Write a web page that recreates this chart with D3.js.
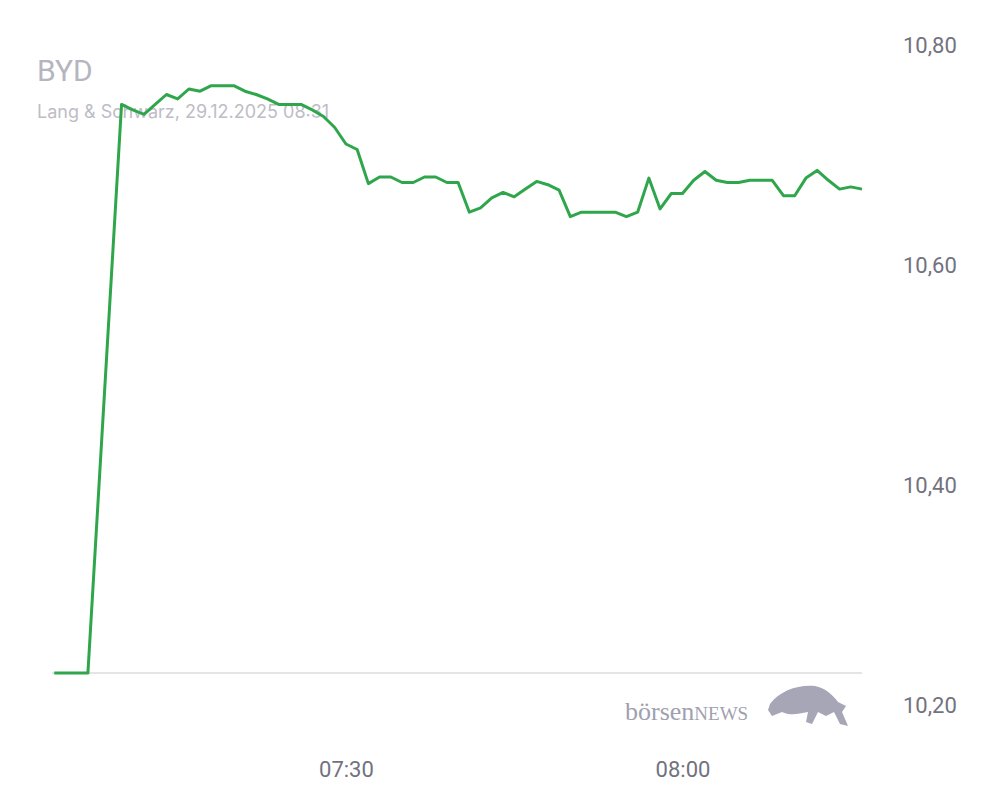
<!DOCTYPE html>
<html><head><meta charset="utf-8">
<script src="https://cdn.jsdelivr.net/npm/d3@7"></script>
<style>body{margin:0;background:#fff}svg{display:block}</style>
</head><body>
<script>
const times = ["07:04","07:07","07:10","07:11","07:12","07:13","07:14","07:15","07:16","07:17","07:18","07:19","07:20","07:21","07:22","07:23","07:24","07:25","07:26","07:27","07:28","07:29","07:30","07:31","07:32","07:33","07:34","07:35","07:36","07:37","07:38","07:39","07:40","07:41","07:42","07:43","07:44","07:45","07:46","07:47","07:48","07:49","07:50","07:51","07:52","07:53","07:54","07:55","07:56","07:57","07:58","07:59","08:00","08:01","08:02","08:03","08:04","08:05","08:06","08:07","08:08","08:09","08:10","08:11","08:12","08:13","08:14","08:15","08:16"];
const prices = [10.229,10.229,10.746,10.741,10.737,10.746,10.755,10.751,10.760,10.758,10.763,10.763,10.763,10.758,10.755,10.751,10.746,10.746,10.746,10.741,10.735,10.725,10.710,10.705,10.674,10.680,10.680,10.675,10.675,10.680,10.680,10.675,10.675,10.648,10.652,10.661,10.666,10.662,10.669,10.676,10.673,10.668,10.644,10.648,10.648,10.648,10.648,10.644,10.648,10.679,10.651,10.665,10.665,10.677,10.685,10.677,10.675,10.675,10.677,10.677,10.677,10.663,10.663,10.679,10.686,10.677,10.669,10.671,10.669];
const yTicks = [10.20,10.40,10.60,10.80];
const xTicks = ["07:30","08:00"];
const title = "BYD", subtitle = "Lang & Schwarz, 29.12.2025 08:31";

const W=1008,H=810;
const parse = d3.timeParse("%H:%M");
const data = times.map((t,i)=>({t:parse(t),v:prices[i]}));
const svg = d3.select("body").append("svg").attr("width",W).attr("height",H);
const x = d3.scaleTime().domain([parse("07:03.8".slice(0,5)), parse("08:16")]).range([52,862]);
x.domain([new Date(parse("07:04").getTime()-12000), parse("08:16")]);
const y = d3.scaleLinear().domain([10.20,10.80]).range([705,45]);
const baseVal = d3.min(prices);

svg.append("line").attr("x1",52).attr("x2",862).attr("y1",y(baseVal)).attr("y2",y(baseVal))
  .attr("stroke","#dcdce0").attr("stroke-width",1.5);

const ya = svg.append("g").attr("transform","translate(900,0)")
  .call(d3.axisRight(y).tickValues(yTicks).tickSize(0).tickFormat(d=>d3.format(".2f")(d).replace(".",",")));
ya.select(".domain").remove();
ya.selectAll("text").attr("x",3).attr("fill","#72727f").attr("font-family","Roboto").attr("font-size",22);

const xa = svg.append("g").attr("transform","translate(0,758)")
  .call(d3.axisBottom(x).tickValues(xTicks.map(parse)).tickSize(0).tickFormat(d3.timeFormat("%H:%M")));
xa.select(".domain").remove();
xa.selectAll("text").attr("fill","#72727f").attr("font-family","Roboto").attr("font-size",22);

svg.append("text").attr("x",37).attr("y",81).text(title).attr("fill","#b5b5c0")
  .attr("font-family","Roboto").attr("font-size",30);
svg.append("text").attr("x",37).attr("y",118).text(subtitle).attr("fill","#bdbdc6")
  .attr("font-family","Inter").attr("font-size",18);

svg.append("path").datum(data).attr("fill","none").attr("stroke","#2fa64b").attr("stroke-width",3)
  .attr("stroke-linejoin","round").attr("d",d3.line().x(d=>x(d.t)).y(d=>y(d.v)));

// logo
const lg = svg.append("g");
lg.append("text").attr("x",625).attr("y",720).attr("font-family","Liberation Serif").attr("font-size",26).attr("fill","#a0a0b0")
  .text("börsen").append("tspan").attr("font-size",19).text("NEWS");
lg.append("path").attr("fill","#a6a6b6")
  .attr("d","M770,704 C780,690 800,684 815,686 C825,688 832,694 838,702 L846,706 L842,712 L848,726 L840,724 L834,712 L826,716 L818,712 L812,724 L806,722 L808,712 C798,714 790,716 782,712 L772,716 L768,710 Z");
</script>
</body></html>
